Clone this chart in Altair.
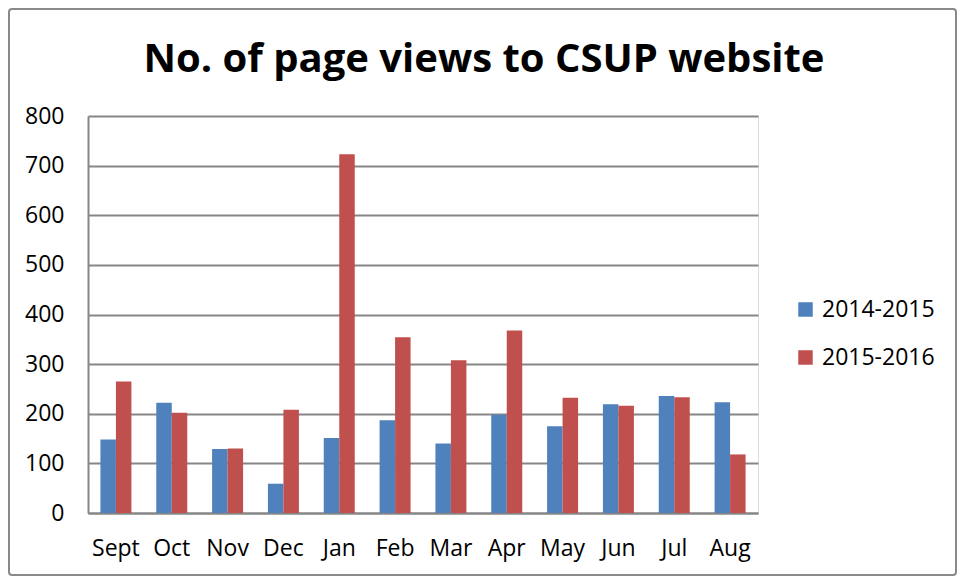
import altair as alt
import pandas as pd

title_text = "No. of page views to CSUP website"
months = ["Sept", "Oct", "Nov", "Dec", "Jan", "Feb", "Mar", "Apr", "May", "Jun", "Jul", "Aug"]
series_names = ["2014-2015", "2015-2016"]
views_2014_2015 = [148, 222, 129, 59, 151, 187, 140, 198, 175, 219, 236, 223]
views_2015_2016 = [265, 202, 130, 208, 723, 354, 308, 368, 232, 216, 233, 118]
y_ticks = [0, 100, 200, 300, 400, 500, 600, 700, 800]

rows = []
for i, m in enumerate(months):
    rows.append({"month": m, "series": series_names[0], "views": views_2014_2015[i]})
    rows.append({"month": m, "series": series_names[1], "views": views_2015_2016[i]})
df = pd.DataFrame(rows)

FONT = "Open Sans"
W, H = 670, 397

bars = alt.Chart(df).mark_bar().encode(
    x=alt.X("month:N", sort=months,
            scale=alt.Scale(paddingInner=0.445, paddingOuter=0.2225),
            axis=alt.Axis(title=None, labelAngle=0, labelFont=FONT, labelFontSize=23,
                          labelColor="black", labelPadding=24, ticks=False,
                          domainColor="#868686", domainWidth=2)),
    xOffset=alt.XOffset("series:N", sort=series_names,
                        scale=alt.Scale(paddingInner=0, paddingOuter=0)),
    y=alt.Y("views:Q", scale=alt.Scale(domain=[0, 800], nice=False),
            axis=alt.Axis(title=None, values=y_ticks, labelFont=FONT, labelFontSize=23,
                          labelColor="black", labelPadding=24, ticks=False,
                          domainColor="#868686", domainWidth=2,
                          gridColor="#868686", gridWidth=2)),
    color=alt.Color("series:N", sort=series_names,
                    scale=alt.Scale(domain=series_names, range=["#4F81BD", "#C0504D"]),
                    legend=alt.Legend(title=None, orient="none", legendX=706, legendY=182,
                                      padding=0, symbolType="square", symbolSize=210,
                                      symbolStrokeWidth=0, labelFont=FONT, labelFontSize=23,
                                      labelColor="black", labelOffset=5, rowPadding=24)),
)

one_row = alt.Data(values=[{"t": title_text}])

border = alt.Chart(one_row).mark_rect(
    fill="transparent", stroke="#898989", strokeWidth=2, cornerRadius=3
).encode(
    x=alt.value(-79), x2=alt.value(868), y=alt.value(-107), y2=alt.value(459)
)

title = alt.Chart(one_row).mark_text(
    font=FONT, fontSize=40, fontWeight="bold", color="black",
    align="center", baseline="alphabetic"
).encode(text="t:N", x=alt.value(396), y=alt.value(-44))

chart = alt.layer(border, title, bars).properties(
    width=W, height=H,
    autosize=alt.AutoSizeParams(type="none"),
    padding={"left": 80, "top": 108, "right": 199, "bottom": 63},
).configure_view(stroke=None).configure(background="white")

chart.save("out.html", embed_options={"renderer": "svg", "actions": False})
